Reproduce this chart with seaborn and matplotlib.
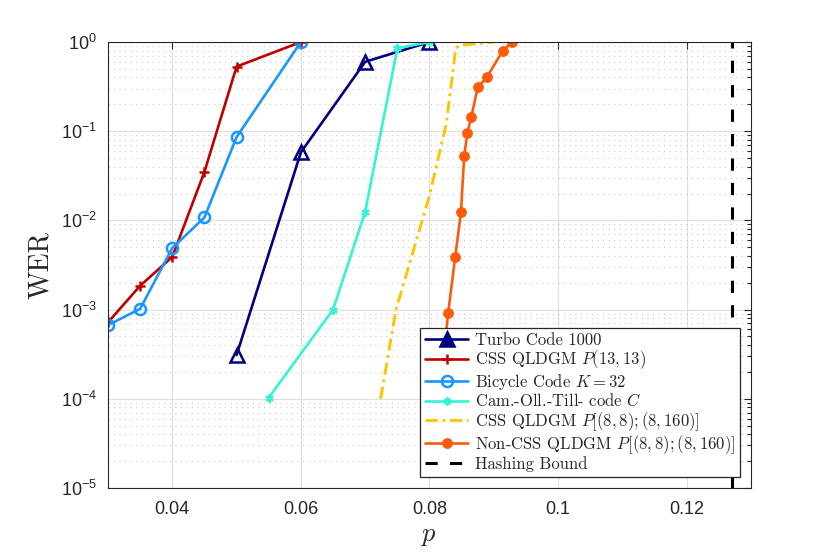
import numpy as np
import pandas as pd
import seaborn as sns
import matplotlib.pyplot as plt
from matplotlib.font_manager import FontProperties
from matplotlib.ticker import FixedLocator, FixedFormatter, LogLocator, NullLocator

# values
p_turbo = [0.05, 0.06, 0.07, 0.08]
wer_turbo = [3.1e-4, 5.8e-2, 0.60, 1.0]

p_css13 = [0.03, 0.035, 0.04, 0.045, 0.05, 0.06]
wer_css13 = [7.2e-4, 1.85e-3, 3.9e-3, 3.5e-2, 0.53, 1.0]

p_bicycle = [0.03, 0.035, 0.04, 0.045, 0.05, 0.06]
wer_bicycle = [6.7e-4, 1.02e-3, 4.9e-3, 1.08e-2, 8.6e-2, 1.0]

p_cot = [0.055, 0.065, 0.07, 0.075, 0.08]
wer_cot = [1.03e-4, 1.0e-3, 1.25e-2, 0.85, 1.0]

p_css8 = [0.0724, 0.0748, 0.0800, 0.0826, 0.0841, 0.0849, 0.0899]
wer_css8 = [1.0e-4, 1.0e-3, 1.9e-2, 0.12, 0.86, 0.92, 1.0]

p_noncss = [0.0815, 0.0829, 0.0840, 0.0849, 0.0854, 0.0859, 0.0865, 0.0875, 0.0889, 0.0914, 0.0929]
wer_noncss = [1.0e-4, 9.1e-4, 3.9e-3, 1.24e-2, 5.3e-2, 9.6e-2, 0.144, 0.31, 0.40, 0.80, 1.0]

hashing_bound = 0.127

x_ticks = [0.04, 0.06, 0.08, 0.1, 0.12]
x_tick_labels = ['0.04', '0.06', '0.08', '0.1', '0.12']
y_ticks = [1e-5, 1e-4, 1e-3, 1e-2, 1e-1, 1e0]
y_tick_labels = [r'$10^{-5}$', r'$10^{-4}$', r'$10^{-3}$', r'$10^{-2}$', r'$10^{-1}$', r'$10^{0}$']

sns.set_style('white')
plt.rcParams['font.family'] = ['Liberation Sans', 'DejaVu Sans']
plt.rcParams['mathtext.fontset'] = 'custom'
plt.rcParams['mathtext.rm'] = 'Liberation Sans'
plt.rcParams['mathtext.it'] = 'Liberation Sans:italic'

fig = plt.figure(figsize=(8.3, 5.54), dpi=100)
ax = fig.add_axes([0.1301, 0.1191, 0.7747, 0.8051])

lw = 1.9
navy, red, blue, cyan, yellow, orange = '#000080', '#C00000', '#1A96FF', '#33F5D2', '#FFC400', '#FF5A0A'

sns.lineplot(x=p_turbo, y=wer_turbo, ax=ax, color=navy, lw=lw, marker='^',
             markersize=10, markerfacecolor='none', markeredgecolor=navy,
             markeredgewidth=1.8, label='Turbo Code 1000')
sns.lineplot(x=p_css13, y=wer_css13, ax=ax, color=red, lw=lw, marker='+',
             markersize=7, markeredgewidth=1.8, markeredgecolor=red,
             label=r'CSS QLDGM $P(13,13)$')
sns.lineplot(x=p_bicycle, y=wer_bicycle, ax=ax, color=blue, lw=lw, marker='o',
             markersize=8, markerfacecolor='none', markeredgecolor=blue,
             markeredgewidth=1.8, label=r'Bicycle Code $K=32$')
sns.lineplot(x=p_cot, y=wer_cot, ax=ax, color=cyan, lw=lw, marker=(6, 2, 0),
             markersize=6, markeredgewidth=1.5, markeredgecolor=cyan,
             label=r'Cam.-Oll.-Till- code $C$')
sns.lineplot(x=p_css8, y=wer_css8, ax=ax, color=yellow, lw=2.1,
             linestyle=(0, (4.2, 1.6, 1.0, 1.6)),
             sort=False, label=r'CSS QLDGM $P[(8,8);(8,160)]$')
sns.lineplot(x=p_noncss, y=wer_noncss, ax=ax, color=orange, lw=lw, marker='o',
             markersize=7, markeredgecolor=orange,
             label=r'Non-CSS QLDGM $P[(8,8);(8,160)]$')
ax.axvline(hashing_bound, color='black', lw=2.2, linestyle=(0, (4, 4)), label='Hashing Bound')

ax.set_yscale('log')
ax.set_xlim(0.03, 0.13)
ax.set_ylim(1e-5, 1.0)

ax.xaxis.set_major_locator(FixedLocator(x_ticks))
ax.xaxis.set_major_formatter(FixedFormatter(x_tick_labels))
ax.xaxis.set_minor_locator(NullLocator())
ax.yaxis.set_major_locator(FixedLocator(y_ticks))
ax.yaxis.set_major_formatter(FixedFormatter(y_tick_labels))
ax.yaxis.set_minor_locator(LogLocator(base=10, subs=np.arange(2, 10), numticks=20))

ax.grid(which='major', color='#E0E0E0', lw=0.9, ls='-')
ax.grid(which='minor', axis='y', color='#C8C8C8', lw=0.8, ls=(0, (1, 4)))
ax.set_axisbelow(True)

ax.tick_params(which='both', direction='in', top=True, right=True, colors='#262626',
               labelsize=13, width=0.8)
ax.tick_params(which='major', length=5)
ax.tick_params(which='minor', length=3)
ax.tick_params(axis='x', pad=9)
ax.tick_params(axis='y', pad=8)
for s in ax.spines.values():
    s.set_color('#262626')
    s.set_linewidth(0.8)

ax.set_ylabel('WER', fontfamily='cmr10', fontsize=20, labelpad=5, color='#262626')
ax.set_xlabel(r'$p$', fontsize=19, math_fontfamily='cm', labelpad=5, color='#262626')

leg_font = FontProperties(family='cmr10', size=12, math_fontfamily='cm')
leg = ax.legend(loc='lower right', prop=leg_font, frameon=True, fancybox=False,
                framealpha=1, edgecolor='#262626', handlelength=2.6, labelspacing=0.03,
                borderaxespad=0.65, borderpad=0.3, handletextpad=0.4)
leg.get_frame().set_linewidth(0.9)
leg.get_lines()[0].set_markerfacecolor(navy)

plt.savefig('out.png', dpi=100)
